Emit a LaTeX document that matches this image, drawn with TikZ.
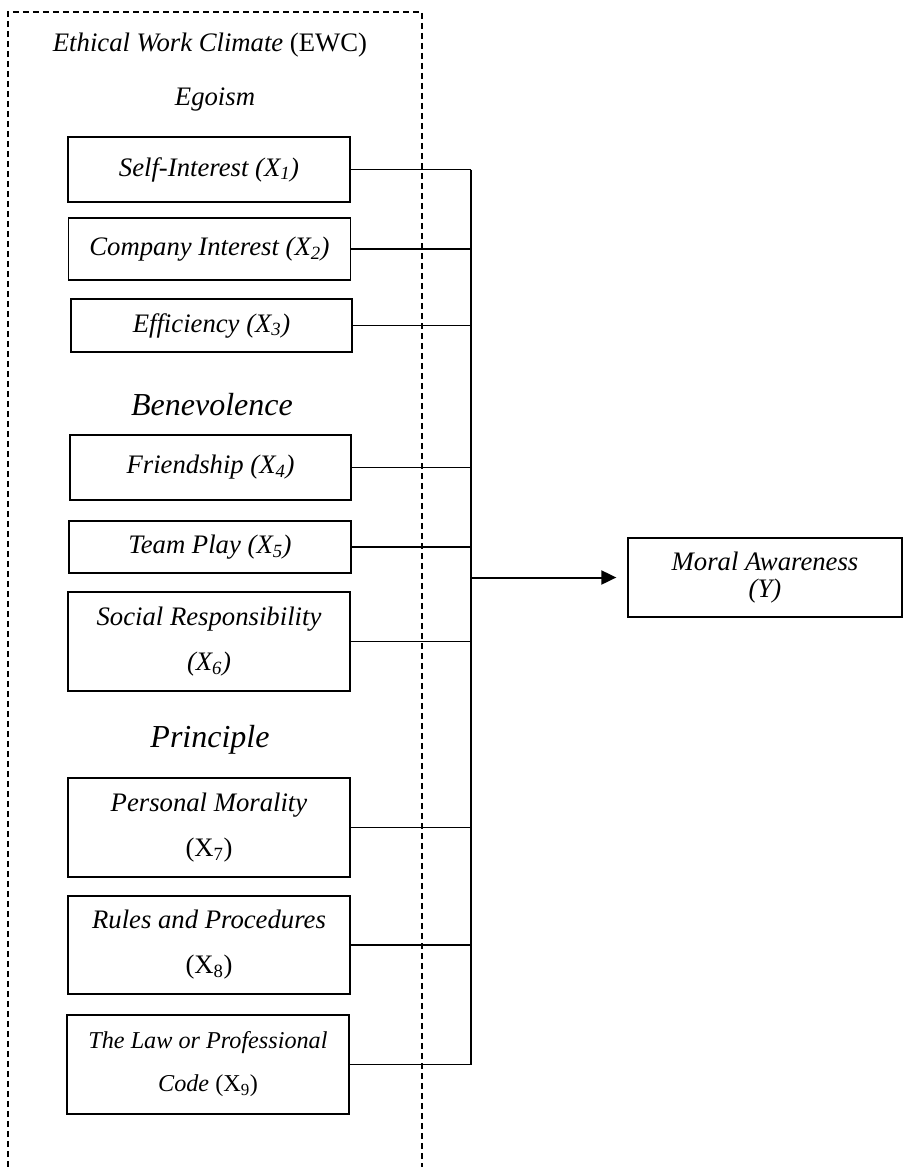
\documentclass[tikz,border=0pt]{standalone}
\usepackage{fontspec}
\setmainfont{Liberation Serif}
\usetikzlibrary{arrows.meta}

\tikzset{
  varbox/.style={draw, line width=1.3pt, inner sep=0pt, align=center,
    minimum width=282pt, font=\fontsize{26.7}{45}\selectfont},
  head/.style={font=\fontsize{26.7}{30}\selectfont\itshape},
  bighead/.style={font=\fontsize{32}{36}\selectfont\itshape},
  link/.style={line width=1.3pt},
}

\begin{document}
\begin{tikzpicture}[x=1pt,y=-1pt]
  \useasboundingbox (0,0) rectangle (903,1167);
  % dashed frame round the climate variables
  \draw[line width=1.2pt,dash pattern=on 6pt off 4pt] (8,1167) -- (8,12) -- (422,12) -- (422,1167);
  \node[head] (title) at (210,45) {Ethical Work Climate \upshape(EWC)};
  \node[head] (ego) at (215,100) {Egoism};
  \node[varbox,minimum height=65pt] (b1) at (209,169.5) {\textit{Self-Interest (X\textsubscript{1})}};
  \node[varbox,minimum height=62pt] (b2) at (209.5,249) {\textit{Company Interest (X\textsubscript{2})}};
  \node[varbox,minimum height=53pt,minimum width=281pt] (b3) at (211.5,325.5) {\textit{Efficiency (X\textsubscript{3})}};
  \node[bighead] (bene) at (212,405) {Benevolence};
  \node[varbox,minimum height=65pt,minimum width=281pt] (b4) at (210.5,467.5) {\textit{Friendship (X\textsubscript{4})}};
  \node[varbox,minimum height=52pt] (b5) at (210,547) {\textit{Team Play (X\textsubscript{5})}};
  \node[varbox,minimum height=99pt] (b6) at (209,641.5) {\textit{Social Responsibility}\\\textit{(X\textsubscript{6})}};
  \node[bighead] (prin) at (210,740) {Principle};
  \node[varbox,minimum height=99pt] (b7) at (209,827.5) {\textit{Personal Morality}\\(X\textsubscript{7})};
  \node[varbox,minimum height=98pt] (b8) at (209,945) {\textit{Rules and Procedures}\\(X\textsubscript{8})};
  \node[varbox,minimum height=99pt,font=\fontsize{24.2}{43}\selectfont] (b9) at (208,1064.5) {\textit{The Law or Professional}\\\textit{Code} (X\textsubscript{9})};
  \node[varbox,minimum height=79pt,minimum width=274pt,font=\fontsize{26.7}{27}\selectfont] (y) at (765,577.5) {\textit{Moral Awareness}\\\textit{(Y)}};
  % collecting line
  \coordinate (bus) at (471,0);
  \foreach \i in {1,...,9}
    \draw[link] (b\i.east) -- (b\i.east -| bus);
  \draw[link] (b1.east -| bus) -- (b9.east -| bus);
  \draw[line width=2pt,-{Triangle[length=15pt,width=14pt]}] (y.west -| bus) -- ([xshift=-11pt]y.west);
\end{tikzpicture}
\end{document}
